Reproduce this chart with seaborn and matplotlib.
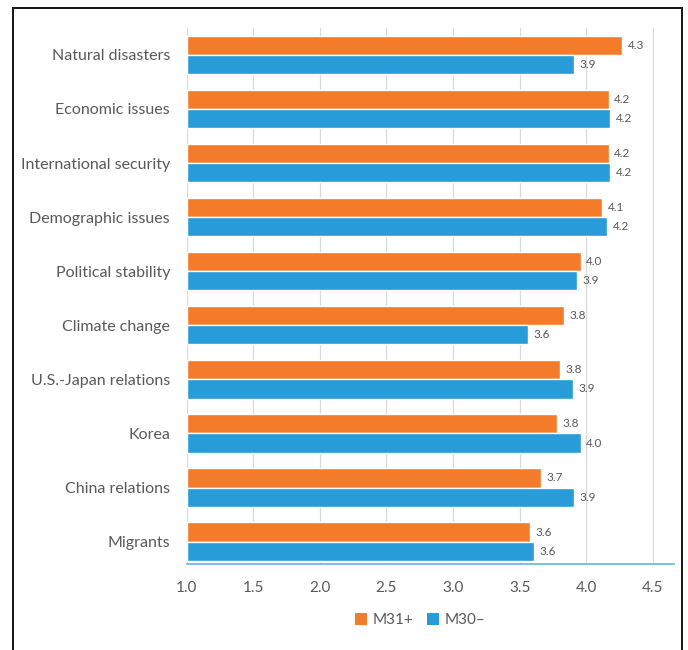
import matplotlib
matplotlib.use("Agg")
import matplotlib.pyplot as plt
import matplotlib.patches as mpatches
import seaborn as sns
import pandas as pd

categories = ["Natural disasters", "Economic issues", "International security",
              "Demographic issues", "Political stability", "Climate change",
              "U.S.-Japan relations", "Korea", "China relations", "Migrants"]
m31_values = [4.27, 4.17, 4.17, 4.12, 3.96, 3.83, 3.80, 3.78, 3.66, 3.58]
m30_values = [3.91, 4.18, 4.18, 4.16, 3.93, 3.56, 3.90, 3.96, 3.91, 3.61]
series_names = ["M31+", "M30\u2013"]
x_ticks = [1.0, 1.5, 2.0, 2.5, 3.0, 3.5, 4.0, 4.5]

colors = ["#F47B2A", "#279CD8"]
text_col = "#595959"

df = pd.DataFrame({
    "category": categories * 2,
    "value": m31_values + m30_values,
    "series": [series_names[0]] * len(categories) + [series_names[1]] * len(categories),
})

sns.set_style("white")
plt.rcParams["font.family"] = ["Lato", "DejaVu Sans"]

W, H = 688, 650
fig = plt.figure(figsize=(W / 100, H / 100), dpi=100)
ax = fig.add_axes([0.2714, 0.1318, 0.9797 - 0.2714, 0.9572 - 0.1318])

sns.barplot(data=df, y="category", x="value", hue="series", orient="h",
            palette=colors, saturation=1, width=0.71, ax=ax, edgecolor="white",
            linewidth=1.0, legend=False, order=categories,
            hue_order=series_names)

# bars are measured from 1.0 (the axis origin)
ax.set_xlim(1.0, 4.66)
ax.set_ylim(9.42, -0.5)

for cont in ax.containers:
    for bar in cont:
        w = bar.get_width()
        bar.set_x(1.0)
        bar.set_width(w - 1.0)
    labels = [f"{b.get_x() + b.get_width():.1f}" for b in cont]
    ax.bar_label(cont, labels=labels, padding=4, fontsize=8.5, color=text_col)

ax.set_xticks(x_ticks)
ax.set_xticklabels([f"{t:.1f}" for t in x_ticks])
ax.xaxis.grid(True, color="#D9D9D9", linewidth=0.9)
ax.set_axisbelow(True)
ax.tick_params(axis="x", length=0, pad=12, labelsize=11, labelcolor=text_col)
ax.tick_params(axis="y", length=0, pad=12, labelsize=11.5, labelcolor=text_col)
ax.set_xlabel("")
ax.set_ylabel("")
for s in ["top", "right", "left"]:
    ax.spines[s].set_visible(False)
ax.spines["bottom"].set_color("#6DBCE8")
ax.spines["bottom"].set_linewidth(1.3)

handles = [mpatches.Patch(facecolor=c, edgecolor="none") for c in colors]
fig.legend(handles, series_names, loc="center", ncol=2,
           bbox_to_anchor=(420 / 688, 1 - 620 / 650), frameon=False,
           fontsize=11, labelcolor=text_col, handlelength=0.8,
           handleheight=0.8, handletextpad=0.35, columnspacing=0.9)

# outer frame as thin filled strips (open at the bottom edge of the image)
t = 2.0  # px
left_px, right_px, top_px = 12.0, 681.0, 7.0
strips = [
    (left_px, 0, t, H - top_px),                       # left
    (right_px, 0, t, H - top_px),                      # right
    (left_px, H - top_px - t, right_px - left_px + t, t),  # top
]
for x0, y0, w0, h0 in strips:
    fig.add_artist(mpatches.Rectangle((x0 / W, y0 / H), w0 / W, h0 / H,
                                      transform=fig.transFigure,
                                      facecolor="#1A1A1A", edgecolor="none",
                                      zorder=10))

fig.savefig("out.png", dpi=100)
